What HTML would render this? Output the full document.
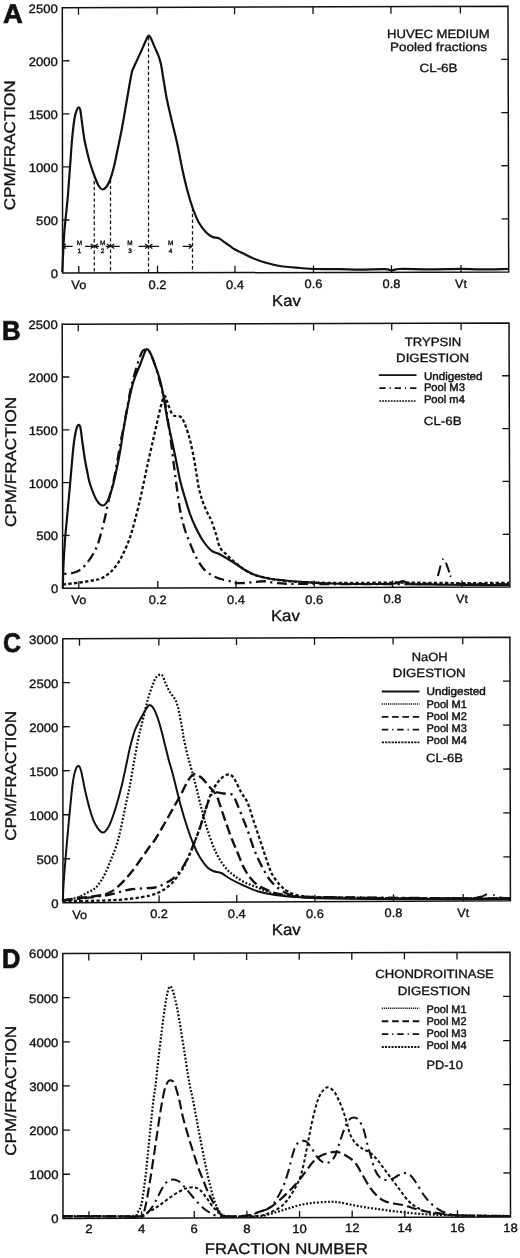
<!DOCTYPE html>
<html><head><meta charset="utf-8"><title>Figure</title>
<style>
html,body{margin:0;padding:0;background:#fff;}
body{width:520px;height:1258px;overflow:hidden;}
svg{display:block;will-change:transform;font-family:'Liberation Sans', sans-serif;fill:#111;}
text{text-rendering:geometricPrecision;stroke:#111;stroke-width:0.34px;}
</style></head><body>
<svg width="520" height="1258" viewBox="0 0 520 1258">
<rect width="520" height="1258" fill="#fff"/>
<path d="M62.30 7.70L508.00 6.30L508.70 272.00L62.60 273.10Z" fill="none" stroke="#111" stroke-width="1.5" stroke-linejoin="miter"/>
<path d="M78.49 7.65l0.01 7.00M78.80 273.06l-0.01 -7.00M157.11 7.40l0.01 7.00M157.50 272.87l-0.01 -7.00M234.55 7.16l0.01 7.00M235.00 272.67l-0.01 -7.00M312.98 6.91l0.01 7.00M313.50 272.48l-0.01 -7.00M390.91 6.67l0.02 7.00M391.50 272.29l-0.02 -7.00M460.34 6.45l0.02 7.00M461.00 272.12l-0.02 -7.00M62.54 220.02l7.00 -0.02M508.56 218.86l-7.00 0.02M62.48 166.94l7.00 -0.02M508.42 165.72l-7.00 0.02M62.42 113.86l7.00 -0.02M508.28 112.58l-7.00 0.02M62.36 60.78l7.00 -0.02M508.14 59.44l-7.00 0.02" stroke="#111" stroke-width="1.3" fill="none"/>
<text x="58.10" y="278.00" font-size="12.20" text-anchor="end" font-weight="normal" letter-spacing="0.00" textLength="7.30" lengthAdjust="spacingAndGlyphs" >0</text>
<text x="58.04" y="224.92" font-size="12.20" text-anchor="end" font-weight="normal" letter-spacing="0.00" textLength="21.90" lengthAdjust="spacingAndGlyphs" >500</text>
<text x="57.98" y="171.84" font-size="12.20" text-anchor="end" font-weight="normal" letter-spacing="0.00" textLength="29.20" lengthAdjust="spacingAndGlyphs" >1000</text>
<text x="57.92" y="118.76" font-size="12.20" text-anchor="end" font-weight="normal" letter-spacing="0.00" textLength="29.20" lengthAdjust="spacingAndGlyphs" >1500</text>
<text x="57.86" y="65.68" font-size="12.20" text-anchor="end" font-weight="normal" letter-spacing="0.00" textLength="29.20" lengthAdjust="spacingAndGlyphs" >2000</text>
<text x="57.80" y="12.60" font-size="12.20" text-anchor="end" font-weight="normal" letter-spacing="0.00" textLength="29.20" lengthAdjust="spacingAndGlyphs" >2500</text>
<text x="78.80" y="289.06" font-size="12.20" text-anchor="middle" font-weight="normal" letter-spacing="0.00" textLength="15.00" lengthAdjust="spacingAndGlyphs" >Vo</text>
<text x="157.50" y="288.87" font-size="12.20" text-anchor="middle" font-weight="normal" letter-spacing="0.00" textLength="17.90" lengthAdjust="spacingAndGlyphs" >0.2</text>
<text x="235.00" y="288.67" font-size="12.20" text-anchor="middle" font-weight="normal" letter-spacing="0.00" textLength="17.90" lengthAdjust="spacingAndGlyphs" >0.4</text>
<text x="313.50" y="288.48" font-size="12.20" text-anchor="middle" font-weight="normal" letter-spacing="0.00" textLength="17.90" lengthAdjust="spacingAndGlyphs" >0.6</text>
<text x="391.50" y="288.29" font-size="12.20" text-anchor="middle" font-weight="normal" letter-spacing="0.00" textLength="17.90" lengthAdjust="spacingAndGlyphs" >0.8</text>
<text x="461.00" y="288.12" font-size="12.20" text-anchor="middle" font-weight="normal" letter-spacing="0.00" textLength="11.80" lengthAdjust="spacingAndGlyphs" >Vt</text>
<text transform="translate(15.20 145.30) rotate(-90)" font-size="15.5" text-anchor="middle" textLength="130" lengthAdjust="spacingAndGlyphs">CPM/FRACTION</text>
<text x="286.40" y="306.30" font-size="15.80" text-anchor="middle" font-weight="normal" letter-spacing="0.00" textLength="28.60" lengthAdjust="spacingAndGlyphs" >Kav</text>
<text x="3.00" y="23.10" font-size="27.00" text-anchor="start" font-weight="bold" letter-spacing="0.00" textLength="19.80" lengthAdjust="spacingAndGlyphs" style="stroke-width:0.7px">A</text>
<text x="438.30" y="38.00" font-size="12.00" text-anchor="middle" font-weight="normal" letter-spacing="0.00" textLength="102.50" lengthAdjust="spacingAndGlyphs" >HUVEC MEDIUM</text>
<text x="438.50" y="51.30" font-size="12.00" text-anchor="middle" font-weight="normal" letter-spacing="0.00" textLength="97.00" lengthAdjust="spacingAndGlyphs" >Pooled fractions</text>
<text x="438.50" y="71.70" font-size="12.00" text-anchor="middle" font-weight="normal" letter-spacing="0.00" textLength="38.00" lengthAdjust="spacingAndGlyphs" >CL-6B</text>
<path d="M62.30 272.00C62.45 268.67 62.83 259.00 63.20 252.00C63.57 245.00 63.78 238.67 64.50 230.00C65.22 221.33 66.58 210.42 67.50 200.00C68.42 189.58 69.25 177.50 70.00 167.50C70.75 157.50 71.25 148.17 72.00 140.00C72.75 131.83 73.67 123.58 74.50 118.50C75.33 113.42 76.29 111.37 77.00 109.50C77.71 107.63 78.20 107.22 78.75 107.30C79.30 107.38 79.76 107.47 80.30 110.00C80.84 112.53 81.30 117.50 82.00 122.50C82.70 127.50 83.58 134.83 84.50 140.00C85.42 145.17 86.58 149.67 87.50 153.50C88.42 157.33 88.75 159.00 90.00 163.00C91.25 167.00 93.54 173.67 95.00 177.50C96.46 181.33 97.50 184.00 98.75 186.00C100.00 188.00 101.25 189.33 102.50 189.50C103.75 189.67 105.00 188.58 106.25 187.00C107.50 185.42 108.75 183.25 110.00 180.00C111.25 176.75 112.50 172.50 113.75 167.50C115.00 162.50 116.12 156.58 117.50 150.00C118.88 143.42 120.67 135.00 122.00 128.00C123.33 121.00 123.96 116.83 125.50 108.00C127.04 99.17 129.92 81.67 131.25 75.00C132.58 68.33 132.49 70.57 133.50 68.00C134.51 65.43 136.22 61.98 137.30 59.60C138.38 57.22 139.03 55.82 140.00 53.70C140.97 51.58 142.18 48.97 143.10 46.90C144.02 44.83 144.80 42.90 145.50 41.30C146.20 39.70 146.82 38.23 147.30 37.30C147.78 36.37 148.02 35.88 148.40 35.70C148.78 35.52 149.20 35.82 149.60 36.20C150.00 36.58 149.97 36.22 150.80 38.00C151.63 39.78 153.30 43.88 154.60 46.90C155.90 49.92 157.53 53.22 158.60 56.10C159.67 58.98 160.32 61.12 161.00 64.20C161.68 67.28 162.13 71.13 162.70 74.60C163.27 78.07 163.72 80.93 164.40 85.00C165.08 89.07 165.66 93.42 166.80 99.00C167.94 104.58 169.47 110.83 171.25 118.50C173.03 126.17 175.62 136.42 177.50 145.00C179.38 153.58 180.83 162.33 182.50 170.00C184.17 177.67 185.83 184.75 187.50 191.00C189.17 197.25 190.62 202.25 192.50 207.50C194.38 212.75 196.46 218.33 198.75 222.50C201.04 226.67 203.96 230.08 206.25 232.50C208.54 234.92 210.42 236.03 212.50 237.00C214.58 237.97 216.67 237.38 218.75 238.30C220.83 239.22 222.29 240.63 225.00 242.50C227.71 244.37 232.08 247.75 235.00 249.50C237.92 251.25 239.58 251.58 242.50 253.00C245.42 254.42 248.75 256.42 252.50 258.00C256.25 259.58 260.42 261.17 265.00 262.50C269.58 263.83 274.17 265.08 280.00 266.00C285.83 266.92 294.17 267.50 300.00 268.00C305.83 268.50 308.33 268.80 315.00 269.00C321.67 269.20 332.50 269.10 340.00 269.20C347.50 269.30 352.50 269.60 360.00 269.60C367.50 269.60 379.67 269.08 385.00 269.20C390.33 269.32 389.50 270.33 392.00 270.30C394.50 270.27 393.67 269.17 400.00 269.00C406.33 268.83 419.83 269.33 430.00 269.30C440.17 269.27 452.67 268.78 461.00 268.80C469.33 268.82 472.17 269.37 480.00 269.40C487.83 269.43 503.33 269.07 508.00 269.00" fill="none" stroke="#111" stroke-width="2.20" stroke-linejoin="round" stroke-linecap="butt"/>
<path d="M94.25 181.00V272.60M110.50 180.00V272.60M148.50 37.00V272.60M192.50 208.00V272.60" fill="none" stroke="#111" stroke-width="1.25" stroke-dasharray="3.4 2.4"/>
<path d="M62.60 246.30L72.60 246.30M62.60 246.30L66.00 244.00M62.60 246.30L66.00 248.60" fill="none" stroke="#111" stroke-width="1.25"/>
<path d="M94.00 246.30L85.00 246.30M94.00 246.30L90.60 244.00M94.00 246.30L90.60 248.60" fill="none" stroke="#111" stroke-width="1.25"/>
<path d="M94.50 246.30L99.00 246.30M94.50 246.30L97.90 244.00M94.50 246.30L97.90 248.60" fill="none" stroke="#111" stroke-width="1.25"/>
<path d="M110.20 246.30L105.70 246.30M110.20 246.30L106.80 244.00M110.20 246.30L106.80 248.60" fill="none" stroke="#111" stroke-width="1.25"/>
<path d="M110.80 246.30L119.80 246.30M110.80 246.30L114.20 244.00M110.80 246.30L114.20 248.60" fill="none" stroke="#111" stroke-width="1.25"/>
<path d="M148.50 246.30L138.50 246.30M148.50 246.30L145.10 244.00M148.50 246.30L145.10 248.60" fill="none" stroke="#111" stroke-width="1.25"/>
<path d="M149.00 246.30L159.00 246.30M149.00 246.30L152.40 244.00M149.00 246.30L152.40 248.60" fill="none" stroke="#111" stroke-width="1.25"/>
<path d="M192.20 246.30L182.70 246.30M192.20 246.30L188.80 244.00M192.20 246.30L188.80 248.60" fill="none" stroke="#111" stroke-width="1.25"/>
<text x="79.30" y="244.50" font-size="6.40" text-anchor="middle" font-weight="normal" letter-spacing="0.00"  >M</text>
<text x="79.30" y="253.10" font-size="6.40" text-anchor="middle" font-weight="normal" letter-spacing="0.00"  >1</text>
<text x="102.60" y="244.50" font-size="6.40" text-anchor="middle" font-weight="normal" letter-spacing="0.00"  >M</text>
<text x="102.60" y="253.10" font-size="6.40" text-anchor="middle" font-weight="normal" letter-spacing="0.00"  >2</text>
<text x="130.00" y="244.50" font-size="6.40" text-anchor="middle" font-weight="normal" letter-spacing="0.00"  >M</text>
<text x="130.00" y="253.10" font-size="6.40" text-anchor="middle" font-weight="normal" letter-spacing="0.00"  >3</text>
<text x="170.60" y="244.50" font-size="6.40" text-anchor="middle" font-weight="normal" letter-spacing="0.00"  >M</text>
<text x="170.60" y="253.10" font-size="6.40" text-anchor="middle" font-weight="normal" letter-spacing="0.00"  >4</text>
<path d="M62.20 324.20L509.00 322.90L509.90 587.10L62.70 588.30Z" fill="none" stroke="#111" stroke-width="1.5" stroke-linejoin="miter"/>
<path d="M78.29 324.15l0.01 7.00M78.80 588.26l-0.01 -7.00M157.21 323.92l0.02 7.00M157.80 588.04l-0.02 -7.00M235.34 323.70l0.02 7.00M236.00 587.83l-0.02 -7.00M313.57 323.47l0.02 7.00M314.30 587.62l-0.02 -7.00M391.71 323.24l0.02 7.00M392.50 587.42l-0.02 -7.00M461.14 323.04l0.02 7.00M462.00 587.23l-0.02 -7.00M62.60 535.48l7.00 -0.02M509.72 534.26l-7.00 0.02M62.50 482.66l7.00 -0.02M509.54 481.42l-7.00 0.02M62.40 429.84l7.00 -0.02M509.36 428.58l-7.00 0.02M62.30 377.02l7.00 -0.02M509.18 375.74l-7.00 0.02" stroke="#111" stroke-width="1.3" fill="none"/>
<text x="58.20" y="593.20" font-size="12.20" text-anchor="end" font-weight="normal" letter-spacing="0.00" textLength="7.30" lengthAdjust="spacingAndGlyphs" >0</text>
<text x="58.10" y="540.38" font-size="12.20" text-anchor="end" font-weight="normal" letter-spacing="0.00" textLength="21.90" lengthAdjust="spacingAndGlyphs" >500</text>
<text x="58.00" y="487.56" font-size="12.20" text-anchor="end" font-weight="normal" letter-spacing="0.00" textLength="29.20" lengthAdjust="spacingAndGlyphs" >1000</text>
<text x="57.90" y="434.74" font-size="12.20" text-anchor="end" font-weight="normal" letter-spacing="0.00" textLength="29.20" lengthAdjust="spacingAndGlyphs" >1500</text>
<text x="57.80" y="381.92" font-size="12.20" text-anchor="end" font-weight="normal" letter-spacing="0.00" textLength="29.20" lengthAdjust="spacingAndGlyphs" >2000</text>
<text x="57.70" y="329.10" font-size="12.20" text-anchor="end" font-weight="normal" letter-spacing="0.00" textLength="29.20" lengthAdjust="spacingAndGlyphs" >2500</text>
<text x="78.80" y="604.26" font-size="12.20" text-anchor="middle" font-weight="normal" letter-spacing="0.00" textLength="15.00" lengthAdjust="spacingAndGlyphs" >Vo</text>
<text x="157.80" y="604.04" font-size="12.20" text-anchor="middle" font-weight="normal" letter-spacing="0.00" textLength="17.90" lengthAdjust="spacingAndGlyphs" >0.2</text>
<text x="236.00" y="603.83" font-size="12.20" text-anchor="middle" font-weight="normal" letter-spacing="0.00" textLength="17.90" lengthAdjust="spacingAndGlyphs" >0.4</text>
<text x="314.30" y="603.62" font-size="12.20" text-anchor="middle" font-weight="normal" letter-spacing="0.00" textLength="17.90" lengthAdjust="spacingAndGlyphs" >0.6</text>
<text x="392.50" y="603.42" font-size="12.20" text-anchor="middle" font-weight="normal" letter-spacing="0.00" textLength="17.90" lengthAdjust="spacingAndGlyphs" >0.8</text>
<text x="462.00" y="603.23" font-size="12.20" text-anchor="middle" font-weight="normal" letter-spacing="0.00" textLength="11.80" lengthAdjust="spacingAndGlyphs" >Vt</text>
<text transform="translate(15.90 462.00) rotate(-90)" font-size="15.5" text-anchor="middle" textLength="130" lengthAdjust="spacingAndGlyphs">CPM/FRACTION</text>
<text x="285.40" y="621.00" font-size="15.80" text-anchor="middle" font-weight="normal" letter-spacing="0.00" textLength="29.00" lengthAdjust="spacingAndGlyphs" >Kav</text>
<text x="1.90" y="340.20" font-size="27.40" text-anchor="start" font-weight="bold" letter-spacing="0.00" textLength="18.60" lengthAdjust="spacingAndGlyphs" style="stroke-width:0.7px">B</text>
<text x="433.00" y="346.20" font-size="12.00" text-anchor="middle" font-weight="normal" letter-spacing="0.00" textLength="56.50" lengthAdjust="spacingAndGlyphs" >TRYPSIN</text>
<text x="432.60" y="362.30" font-size="12.00" text-anchor="middle" font-weight="normal" letter-spacing="0.00" textLength="73.00" lengthAdjust="spacingAndGlyphs" >DIGESTION</text>
<path d="M378.80 375.10H416.50" fill="none" stroke="#111" stroke-width="1.80"/>
<path d="M379.30 388.10H416.60" fill="none" stroke="#111" stroke-width="1.70" stroke-dasharray="6.3 4 1.2 3.9"/>
<path d="M379.30 401.00H416.60" fill="none" stroke="#111" stroke-width="1.70" stroke-dasharray="1.8 1.07"/>
<text x="423.90" y="379.50" font-size="11.00" text-anchor="start" font-weight="normal" letter-spacing="0.00" textLength="58.60" lengthAdjust="spacingAndGlyphs" style="stroke-width:0.45px">Undigested</text>
<text x="423.90" y="391.40" font-size="11.00" text-anchor="start" font-weight="normal" letter-spacing="0.00" textLength="41.00" lengthAdjust="spacingAndGlyphs" style="stroke-width:0.45px">Pool M3</text>
<text x="423.90" y="403.20" font-size="11.00" text-anchor="start" font-weight="normal" letter-spacing="0.00" textLength="41.00" lengthAdjust="spacingAndGlyphs" style="stroke-width:0.45px">Pool m4</text>
<text x="442.70" y="424.80" font-size="12.00" text-anchor="middle" font-weight="normal" letter-spacing="0.00" textLength="37.70" lengthAdjust="spacingAndGlyphs" >CL-6B</text>
<path d="M62.80 588.00C62.92 584.17 63.13 573.00 63.50 565.00C63.87 557.00 64.33 548.75 65.00 540.00C65.67 531.25 66.67 521.67 67.50 512.50C68.33 503.33 69.25 493.42 70.00 485.00C70.75 476.58 71.33 469.17 72.00 462.00C72.67 454.83 73.25 447.58 74.00 442.00C74.75 436.42 75.71 431.37 76.50 428.50C77.29 425.63 78.08 424.88 78.75 424.80C79.42 424.72 79.88 424.97 80.50 428.00C81.12 431.03 81.75 437.67 82.50 443.00C83.25 448.33 84.17 455.00 85.00 460.00C85.83 465.00 86.67 469.00 87.50 473.00C88.33 477.00 88.54 479.58 90.00 484.00C91.46 488.42 94.17 495.92 96.25 499.50C98.33 503.08 100.62 505.25 102.50 505.50C104.38 505.75 105.83 504.08 107.50 501.00C109.17 497.92 111.04 492.00 112.50 487.00C113.96 482.00 115.00 476.83 116.25 471.00C117.50 465.17 118.75 459.17 120.00 452.00C121.25 444.83 122.42 435.83 123.75 428.00C125.08 420.17 126.54 412.17 128.00 405.00C129.46 397.83 131.17 390.08 132.50 385.00C133.83 379.92 134.75 377.83 136.00 374.50C137.25 371.17 138.75 368.17 140.00 365.00C141.25 361.83 142.46 358.08 143.50 355.50C144.54 352.92 145.37 350.33 146.25 349.50C147.13 348.67 147.97 349.58 148.80 350.50C149.63 351.42 150.22 352.58 151.25 355.00C152.28 357.42 153.54 360.83 155.00 365.00C156.46 369.17 158.54 374.58 160.00 380.00C161.46 385.42 162.50 390.83 163.75 397.50C165.00 404.17 166.12 412.75 167.50 420.00C168.88 427.25 170.58 434.33 172.00 441.00C173.42 447.67 174.67 453.50 176.00 460.00C177.33 466.50 178.50 473.67 180.00 480.00C181.50 486.33 183.33 492.33 185.00 498.00C186.67 503.67 188.33 509.33 190.00 514.00C191.67 518.67 192.92 521.67 195.00 526.00C197.08 530.33 199.79 535.92 202.50 540.00C205.21 544.08 208.54 548.21 211.25 550.50C213.96 552.79 216.04 552.38 218.75 553.75C221.46 555.12 224.38 556.88 227.50 558.75C230.62 560.62 234.58 563.12 237.50 565.00C240.42 566.88 242.08 568.33 245.00 570.00C247.92 571.67 250.83 573.54 255.00 575.00C259.17 576.46 265.00 577.83 270.00 578.75C275.00 579.67 280.00 580.00 285.00 580.50C290.00 581.00 292.50 581.25 300.00 581.75C307.50 582.25 318.33 583.12 330.00 583.50C341.67 583.88 359.17 584.00 370.00 584.00C380.83 584.00 389.50 584.00 395.00 583.50C400.50 583.00 400.50 580.95 403.00 581.00C405.50 581.05 403.83 583.20 410.00 583.80C416.17 584.40 430.00 584.40 440.00 584.60C450.00 584.80 458.50 584.90 470.00 585.00C481.50 585.10 502.50 585.17 509.00 585.20" fill="none" stroke="#111" stroke-width="2.20" stroke-linejoin="round" stroke-linecap="butt"/>
<path d="M62.80 574.00C64.42 573.83 69.63 573.67 72.50 573.00C75.37 572.33 77.71 571.50 80.00 570.00C82.29 568.50 84.17 566.50 86.25 564.00C88.33 561.50 90.62 558.17 92.50 555.00C94.38 551.83 96.04 548.75 97.50 545.00C98.96 541.25 100.00 537.08 101.25 532.50C102.50 527.92 103.75 522.92 105.00 517.50C106.25 512.08 107.29 506.25 108.75 500.00C110.21 493.75 112.29 486.67 113.75 480.00C115.21 473.33 116.29 466.67 117.50 460.00C118.71 453.33 119.75 446.67 121.00 440.00C122.25 433.33 123.50 427.92 125.00 420.00C126.50 412.08 128.58 399.50 130.00 392.50C131.42 385.50 132.50 381.92 133.50 378.00C134.50 374.08 135.13 371.92 136.00 369.00C136.87 366.08 137.67 363.42 138.70 360.50C139.73 357.58 141.10 353.37 142.20 351.50C143.30 349.63 144.25 349.47 145.30 349.30C146.35 349.13 147.38 349.22 148.50 350.50C149.62 351.78 150.75 354.08 152.00 357.00C153.25 359.92 154.67 363.75 156.00 368.00C157.33 372.25 158.50 376.75 160.00 382.50C161.50 388.25 163.67 396.08 165.00 402.50C166.33 408.92 167.08 415.08 168.00 421.00C168.92 426.92 169.67 431.83 170.50 438.00C171.33 444.17 172.20 451.67 173.00 458.00C173.80 464.33 174.38 469.00 175.30 476.00C176.22 483.00 177.47 493.17 178.50 500.00C179.53 506.83 180.42 512.00 181.50 517.00C182.58 522.00 183.79 526.17 185.00 530.00C186.21 533.83 187.08 535.83 188.75 540.00C190.42 544.17 192.71 550.42 195.00 555.00C197.29 559.58 199.79 564.17 202.50 567.50C205.21 570.83 208.33 573.12 211.25 575.00C214.17 576.88 216.88 577.71 220.00 578.75C223.12 579.79 227.42 580.54 230.00 581.25C232.58 581.96 233.00 582.71 235.50 583.00C238.00 583.29 241.75 583.17 245.00 583.00C248.25 582.83 251.67 582.29 255.00 582.00C258.33 581.71 261.67 581.08 265.00 581.25C268.33 581.42 271.25 582.58 275.00 583.00C278.75 583.42 280.00 583.58 287.50 583.75C295.00 583.92 306.25 583.92 320.00 584.00C333.75 584.08 353.33 584.20 370.00 584.20C386.67 584.20 409.67 584.07 420.00 584.00C430.33 583.93 430.00 583.83 432.00 583.80" fill="none" stroke="#111" stroke-width="2.30" stroke-linejoin="round" stroke-linecap="butt" stroke-dasharray="10 4.5 2.2 4.5" stroke-dashoffset="13.0"/>
<path d="M456.00 584.00C460.00 584.03 471.17 584.15 480.00 584.20C488.83 584.25 504.17 584.28 509.00 584.30" fill="none" stroke="#111" stroke-width="2.30" stroke-linejoin="round" stroke-linecap="butt" stroke-dasharray="10 4.5 2.2 4.5" stroke-dashoffset="0.0"/>
<path d="M437.9 576L440.6 565.6M442.3 559.6L443.2 558.6M445.9 562.6L449.4 572.4M450.2 575.6L451 576.8" fill="none" stroke="#111" stroke-width="2"/>
<path d="M62.80 584.50C65.67 584.17 75.05 583.17 80.00 582.50C84.95 581.83 88.96 581.17 92.50 580.50C96.04 579.83 98.33 579.83 101.25 578.50C104.17 577.17 107.29 574.96 110.00 572.50C112.71 570.04 115.21 567.08 117.50 563.75C119.79 560.42 121.67 556.88 123.75 552.50C125.83 548.12 128.12 542.92 130.00 537.50C131.88 532.08 133.33 526.25 135.00 520.00C136.67 513.75 138.54 506.25 140.00 500.00C141.46 493.75 142.50 488.33 143.75 482.50C145.00 476.67 146.29 470.58 147.50 465.00C148.71 459.42 149.92 453.83 151.00 449.00C152.08 444.17 152.71 441.67 154.00 436.00C155.29 430.33 157.42 420.67 158.75 415.00C160.08 409.33 161.08 405.17 162.00 402.00C162.92 398.83 163.58 396.67 164.25 396.00C164.92 395.33 165.38 396.67 166.00 398.00C166.62 399.33 167.00 401.33 168.00 404.00C169.00 406.67 170.75 412.00 172.00 414.00C173.25 416.00 174.17 415.58 175.50 416.00C176.83 416.42 178.75 415.83 180.00 416.50C181.25 417.17 182.00 418.25 183.00 420.00C184.00 421.75 184.83 423.67 186.00 427.00C187.17 430.33 188.71 434.92 190.00 440.00C191.29 445.08 192.71 452.08 193.75 457.50C194.79 462.92 195.42 467.50 196.25 472.50C197.08 477.50 197.71 482.75 198.75 487.50C199.79 492.25 201.04 496.75 202.50 501.00C203.96 505.25 206.00 509.67 207.50 513.00C209.00 516.33 210.04 517.33 211.50 521.00C212.96 524.67 214.83 530.58 216.25 535.00C217.67 539.42 218.12 544.08 220.00 547.50C221.88 550.92 225.00 553.00 227.50 555.50C230.00 558.00 232.08 560.08 235.00 562.50C237.92 564.92 241.67 567.92 245.00 570.00C248.33 572.08 250.83 573.54 255.00 575.00C259.17 576.46 265.42 577.83 270.00 578.75C274.58 579.67 277.50 579.96 282.50 580.50C287.50 581.04 290.42 581.58 300.00 582.00C309.58 582.42 323.33 582.92 340.00 583.00C356.67 583.08 383.33 582.50 400.00 582.50C416.67 582.50 421.83 582.92 440.00 583.00C458.17 583.08 497.50 583.00 509.00 583.00" fill="none" stroke="#111" stroke-width="2.30" stroke-linejoin="round" stroke-linecap="butt" stroke-dasharray="3.3 2.3" stroke-dashoffset="0.0"/>
<path d="M62.80 638.70L509.90 637.20L510.40 900.80L63.00 902.80Z" fill="none" stroke="#111" stroke-width="1.5" stroke-linejoin="miter"/>
<path d="M79.49 638.64l0.01 7.00M79.70 902.73l-0.01 -7.00M158.84 638.38l0.01 7.00M159.10 902.37l-0.01 -7.00M236.48 638.12l0.01 7.00M236.80 902.02l-0.01 -7.00M314.53 637.86l0.01 7.00M314.90 901.67l-0.01 -7.00M393.08 637.59l0.01 7.00M393.50 901.32l-0.01 -7.00M462.73 637.36l0.01 7.00M463.20 901.01l-0.01 -7.00M62.97 858.78l7.00 -0.03M510.32 856.87l-7.00 0.03M62.93 814.77l7.00 -0.03M510.23 812.93l-7.00 0.03M62.90 770.75l7.00 -0.03M510.15 769.00l-7.00 0.03M62.87 726.73l7.00 -0.03M510.07 725.07l-7.00 0.03M62.83 682.72l7.00 -0.02M509.98 681.13l-7.00 0.02" stroke="#111" stroke-width="1.3" fill="none"/>
<text x="58.50" y="907.70" font-size="12.20" text-anchor="end" font-weight="normal" letter-spacing="0.00" textLength="7.30" lengthAdjust="spacingAndGlyphs" >0</text>
<text x="58.47" y="863.68" font-size="12.20" text-anchor="end" font-weight="normal" letter-spacing="0.00" textLength="21.90" lengthAdjust="spacingAndGlyphs" >500</text>
<text x="58.43" y="819.67" font-size="12.20" text-anchor="end" font-weight="normal" letter-spacing="0.00" textLength="29.20" lengthAdjust="spacingAndGlyphs" >1000</text>
<text x="58.40" y="775.65" font-size="12.20" text-anchor="end" font-weight="normal" letter-spacing="0.00" textLength="29.20" lengthAdjust="spacingAndGlyphs" >1500</text>
<text x="58.37" y="731.63" font-size="12.20" text-anchor="end" font-weight="normal" letter-spacing="0.00" textLength="29.20" lengthAdjust="spacingAndGlyphs" >2000</text>
<text x="58.33" y="687.62" font-size="12.20" text-anchor="end" font-weight="normal" letter-spacing="0.00" textLength="29.20" lengthAdjust="spacingAndGlyphs" >2500</text>
<text x="58.30" y="643.60" font-size="12.20" text-anchor="end" font-weight="normal" letter-spacing="0.00" textLength="29.20" lengthAdjust="spacingAndGlyphs" >3000</text>
<text x="79.70" y="918.73" font-size="12.20" text-anchor="middle" font-weight="normal" letter-spacing="0.00" textLength="15.00" lengthAdjust="spacingAndGlyphs" >Vo</text>
<text x="159.10" y="918.37" font-size="12.20" text-anchor="middle" font-weight="normal" letter-spacing="0.00" textLength="17.90" lengthAdjust="spacingAndGlyphs" >0.2</text>
<text x="236.80" y="918.02" font-size="12.20" text-anchor="middle" font-weight="normal" letter-spacing="0.00" textLength="17.90" lengthAdjust="spacingAndGlyphs" >0.4</text>
<text x="314.90" y="917.67" font-size="12.20" text-anchor="middle" font-weight="normal" letter-spacing="0.00" textLength="17.90" lengthAdjust="spacingAndGlyphs" >0.6</text>
<text x="393.50" y="917.32" font-size="12.20" text-anchor="middle" font-weight="normal" letter-spacing="0.00" textLength="17.90" lengthAdjust="spacingAndGlyphs" >0.8</text>
<text x="463.20" y="917.01" font-size="12.20" text-anchor="middle" font-weight="normal" letter-spacing="0.00" textLength="11.80" lengthAdjust="spacingAndGlyphs" >Vt</text>
<text transform="translate(16.30 775.80) rotate(-90)" font-size="15.5" text-anchor="middle" textLength="130" lengthAdjust="spacingAndGlyphs">CPM/FRACTION</text>
<text x="286.20" y="935.00" font-size="15.80" text-anchor="middle" font-weight="normal" letter-spacing="0.00" textLength="29.00" lengthAdjust="spacingAndGlyphs" >Kav</text>
<text x="3.00" y="652.40" font-size="27.00" text-anchor="start" font-weight="bold" letter-spacing="0.00" textLength="18.00" lengthAdjust="spacingAndGlyphs" style="stroke-width:0.7px">C</text>
<text x="429.60" y="660.60" font-size="12.00" text-anchor="middle" font-weight="normal" letter-spacing="0.00" textLength="35.80" lengthAdjust="spacingAndGlyphs" >NaOH</text>
<text x="429.20" y="676.80" font-size="12.00" text-anchor="middle" font-weight="normal" letter-spacing="0.00" textLength="72.70" lengthAdjust="spacingAndGlyphs" >DIGESTION</text>
<path d="M381.80 691.50H419.40" fill="none" stroke="#111" stroke-width="1.80"/>
<text x="426.50" y="694.90" font-size="11.00" text-anchor="start" font-weight="normal" letter-spacing="0.00" textLength="59.30" lengthAdjust="spacingAndGlyphs" style="stroke-width:0.45px">Undigested</text>
<path d="M381.80 704.00H419.40" fill="none" stroke="#111" stroke-width="1.50" stroke-dasharray="1.2 0.87"/>
<text x="426.50" y="707.50" font-size="11.00" text-anchor="start" font-weight="normal" letter-spacing="0.00" textLength="40.40" lengthAdjust="spacingAndGlyphs" style="stroke-width:0.45px">Pool M1</text>
<path d="M381.80 716.90H419.40" fill="none" stroke="#111" stroke-width="1.90" stroke-dasharray="6.6 3.7"/>
<text x="426.50" y="719.90" font-size="11.00" text-anchor="start" font-weight="normal" letter-spacing="0.00" textLength="40.40" lengthAdjust="spacingAndGlyphs" style="stroke-width:0.45px">Pool M2</text>
<path d="M381.80 729.60H419.40" fill="none" stroke="#111" stroke-width="1.70" stroke-dasharray="6.5 3.9 1.2 3.8"/>
<text x="426.50" y="731.70" font-size="11.00" text-anchor="start" font-weight="normal" letter-spacing="0.00" textLength="40.40" lengthAdjust="spacingAndGlyphs" style="stroke-width:0.45px">Pool M3</text>
<path d="M381.80 742.30H419.40" fill="none" stroke="#111" stroke-width="1.80" stroke-dasharray="2.2 1.05"/>
<text x="426.50" y="743.80" font-size="11.00" text-anchor="start" font-weight="normal" letter-spacing="0.00" textLength="40.40" lengthAdjust="spacingAndGlyphs" style="stroke-width:0.45px">Pool M4</text>
<text x="444.50" y="762.10" font-size="12.00" text-anchor="middle" font-weight="normal" letter-spacing="0.00" textLength="36.90" lengthAdjust="spacingAndGlyphs" >CL-6B</text>
<path d="M62.80 901.00C62.92 898.33 63.13 891.00 63.50 885.00C63.87 879.00 64.12 875.42 65.00 865.00C65.88 854.58 67.50 835.83 68.75 822.50C70.00 809.17 71.38 793.75 72.50 785.00C73.62 776.25 74.46 773.17 75.50 770.00C76.54 766.83 77.79 765.75 78.75 766.00C79.71 766.25 80.21 767.50 81.25 771.50C82.29 775.50 83.54 783.58 85.00 790.00C86.46 796.42 88.33 804.38 90.00 810.00C91.67 815.62 92.92 820.00 95.00 823.75C97.08 827.50 100.21 832.04 102.50 832.50C104.79 832.96 106.67 830.25 108.75 826.50C110.83 822.75 112.92 816.50 115.00 810.00C117.08 803.50 119.38 795.00 121.25 787.50C123.12 780.00 124.79 771.67 126.25 765.00C127.71 758.33 128.54 753.33 130.00 747.50C131.46 741.67 133.12 735.00 135.00 730.00C136.88 725.00 139.38 721.04 141.25 717.50C143.12 713.96 144.88 710.83 146.25 708.75C147.62 706.67 148.25 705.00 149.50 705.00C150.75 705.00 152.42 706.67 153.75 708.75C155.08 710.83 156.25 713.96 157.50 717.50C158.75 721.04 160.00 725.42 161.25 730.00C162.50 734.58 163.75 740.00 165.00 745.00C166.25 750.00 167.50 755.33 168.75 760.00C170.00 764.67 171.25 768.33 172.50 773.00C173.75 777.67 174.79 782.25 176.25 788.00C177.71 793.75 179.38 800.83 181.25 807.50C183.12 814.17 185.42 821.75 187.50 828.00C189.58 834.25 191.67 840.08 193.75 845.00C195.83 849.92 197.71 853.75 200.00 857.50C202.29 861.25 205.21 865.21 207.50 867.50C209.79 869.79 211.46 870.33 213.75 871.25C216.04 872.17 218.54 871.75 221.25 873.00C223.96 874.25 226.46 876.75 230.00 878.75C233.54 880.75 237.92 882.92 242.50 885.00C247.08 887.08 252.08 889.58 257.50 891.25C262.92 892.92 267.92 893.99 275.00 895.00C282.08 896.01 290.83 896.70 300.00 897.30C309.17 897.90 313.33 898.32 330.00 898.60C346.67 898.88 378.33 898.93 400.00 899.00C421.67 899.07 441.67 899.02 460.00 899.00C478.33 898.98 501.67 898.92 510.00 898.90" fill="none" stroke="#111" stroke-width="2.00" stroke-linejoin="round" stroke-linecap="butt"/>
<path d="M62.80 900.60C65.25 900.08 73.38 898.85 77.50 897.50C81.62 896.15 84.58 894.03 87.50 892.50C90.42 890.97 92.85 890.08 95.00 888.30C97.15 886.52 98.60 884.47 100.40 881.80C102.20 879.13 104.00 876.10 105.80 872.30C107.60 868.50 109.42 863.47 111.20 859.00C112.98 854.53 114.95 850.33 116.50 845.50C118.05 840.67 118.88 837.17 120.50 830.00C122.12 822.83 124.67 810.00 126.25 802.50C127.83 795.00 128.71 791.75 130.00 785.00C131.29 778.25 132.58 769.88 134.00 762.00C135.42 754.12 137.12 744.37 138.50 737.70C139.88 731.03 141.15 726.78 142.30 722.00C143.45 717.22 144.37 713.17 145.40 709.00C146.43 704.83 147.35 700.83 148.50 697.00C149.65 693.17 151.15 689.08 152.30 686.00C153.45 682.92 154.37 680.30 155.40 678.50C156.43 676.70 157.35 675.72 158.50 675.20C159.65 674.68 161.15 674.10 162.30 675.40C163.45 676.70 164.12 680.18 165.40 683.00C166.68 685.82 168.47 689.72 170.00 692.30C171.53 694.88 173.32 696.22 174.60 698.50C175.88 700.78 176.80 702.92 177.70 706.00C178.60 709.08 179.23 713.17 180.00 717.00C180.77 720.83 181.67 725.42 182.30 729.00C182.93 732.58 182.93 734.17 183.80 738.50C184.67 742.83 186.05 749.25 187.50 755.00C188.95 760.75 190.83 766.75 192.50 773.00C194.17 779.25 195.83 785.92 197.50 792.50C199.17 799.08 200.83 806.25 202.50 812.50C204.17 818.75 205.62 824.17 207.50 830.00C209.38 835.83 211.67 842.50 213.75 847.50C215.83 852.50 217.71 856.25 220.00 860.00C222.29 863.75 225.00 867.29 227.50 870.00C230.00 872.71 232.08 874.17 235.00 876.25C237.92 878.33 241.25 880.62 245.00 882.50C248.75 884.38 253.33 885.83 257.50 887.50C261.67 889.17 265.83 891.25 270.00 892.50C274.17 893.75 277.50 894.28 282.50 895.00C287.50 895.72 292.08 896.37 300.00 896.80C307.92 897.23 310.00 897.37 330.00 897.60C350.00 897.83 390.00 898.07 420.00 898.20C450.00 898.33 495.00 898.37 510.00 898.40" fill="none" stroke="#111" stroke-width="2.20" stroke-linejoin="round" stroke-linecap="butt" stroke-dasharray="1.9 1.75" stroke-dashoffset="0.0"/>
<path d="M62.80 900.50C65.67 900.08 73.38 898.92 80.00 898.00C86.62 897.08 97.65 895.87 102.50 895.00C107.35 894.13 106.77 893.97 109.10 892.80C111.43 891.63 113.92 890.13 116.50 888.00C119.08 885.87 121.90 882.90 124.60 880.00C127.30 877.10 130.23 873.73 132.70 870.60C135.17 867.47 137.17 864.35 139.40 861.20C141.63 858.05 144.18 854.40 146.10 851.70C148.02 849.00 149.28 847.20 150.90 845.00C152.52 842.80 153.38 842.33 155.80 838.50C158.22 834.67 162.20 827.58 165.40 822.00C168.60 816.42 172.23 809.92 175.00 805.00C177.77 800.08 179.92 796.42 182.00 792.50C184.08 788.58 185.58 784.53 187.50 781.50C189.42 778.47 191.21 774.97 193.50 774.30C195.79 773.63 198.50 775.30 201.25 777.50C204.00 779.70 207.50 784.58 210.00 787.50C212.50 790.42 214.58 792.08 216.25 795.00C217.92 797.92 218.54 800.83 220.00 805.00C221.46 809.17 223.12 814.58 225.00 820.00C226.88 825.42 229.17 832.08 231.25 837.50C233.33 842.92 235.42 847.50 237.50 852.50C239.58 857.50 241.67 863.33 243.75 867.50C245.83 871.67 247.71 874.58 250.00 877.50C252.29 880.42 254.58 882.92 257.50 885.00C260.42 887.08 264.17 888.54 267.50 890.00C270.83 891.46 272.08 892.60 277.50 893.75C282.92 894.90 291.25 896.23 300.00 896.90C308.75 897.57 310.00 897.55 330.00 897.80C350.00 898.05 390.00 898.28 420.00 898.40C450.00 898.52 495.00 898.48 510.00 898.50" fill="none" stroke="#111" stroke-width="2.40" stroke-linejoin="round" stroke-linecap="butt" stroke-dasharray="10 4.3" stroke-dashoffset="0.0"/>
<path d="M62.80 900.50C69.83 899.67 93.80 897.33 105.00 895.50C116.20 893.67 121.67 890.83 130.00 889.50C138.33 888.17 149.33 888.45 155.00 887.50C160.67 886.55 161.08 885.22 164.00 883.80C166.92 882.38 169.75 881.25 172.50 879.00C175.25 876.75 178.25 873.22 180.50 870.30C182.75 867.38 184.00 865.38 186.00 861.50C188.00 857.62 190.17 852.67 192.50 847.00C194.83 841.33 197.71 834.08 200.00 827.50C202.29 820.92 204.38 812.92 206.25 807.50C208.12 802.08 209.58 797.50 211.25 795.00C212.92 792.50 214.17 792.75 216.25 792.50C218.33 792.25 221.04 793.08 223.75 793.50C226.46 793.92 230.21 793.08 232.50 795.00C234.79 796.92 235.83 801.25 237.50 805.00C239.17 808.75 240.83 813.33 242.50 817.50C244.17 821.67 245.83 825.42 247.50 830.00C249.17 834.58 250.83 840.42 252.50 845.00C254.17 849.58 255.62 853.33 257.50 857.50C259.38 861.67 261.67 866.25 263.75 870.00C265.83 873.75 267.71 877.08 270.00 880.00C272.29 882.92 274.58 885.21 277.50 887.50C280.42 889.79 283.75 892.28 287.50 893.75C291.25 895.22 292.92 895.72 300.00 896.30C307.08 896.88 310.00 896.92 330.00 897.20C350.00 897.48 396.67 897.82 420.00 898.00C443.33 898.18 460.50 898.37 470.00 898.30C479.50 898.23 475.17 897.88 477.00 897.60C478.83 897.32 480.33 896.77 481.00 896.60" fill="none" stroke="#111" stroke-width="2.30" stroke-linejoin="round" stroke-linecap="butt" stroke-dasharray="10 4.5 2.2 4.5" stroke-dashoffset="0.0"/>
<path d="M62.80 901.00C69.83 900.92 93.80 900.88 105.00 900.50C116.20 900.12 122.50 899.58 130.00 898.75C137.50 897.92 144.58 896.88 150.00 895.50C155.42 894.12 158.75 892.67 162.50 890.50C166.25 888.33 169.58 885.50 172.50 882.50C175.42 879.50 177.92 875.50 180.00 872.50C182.08 869.50 182.92 868.67 185.00 864.50C187.08 860.33 190.00 853.67 192.50 847.50C195.00 841.33 197.71 834.17 200.00 827.50C202.29 820.83 204.38 813.25 206.25 807.50C208.12 801.75 209.38 797.17 211.25 793.00C213.12 788.83 215.42 785.25 217.50 782.50C219.58 779.75 221.67 777.83 223.75 776.50C225.83 775.17 228.12 773.92 230.00 774.50C231.88 775.08 233.12 777.00 235.00 780.00C236.88 783.00 239.17 788.75 241.25 792.50C243.33 796.25 245.62 798.33 247.50 802.50C249.38 806.67 250.83 812.50 252.50 817.50C254.17 822.50 255.83 827.50 257.50 832.50C259.17 837.50 260.83 842.50 262.50 847.50C264.17 852.50 265.83 857.92 267.50 862.50C269.17 867.08 270.42 871.25 272.50 875.00C274.58 878.75 277.50 882.29 280.00 885.00C282.50 887.71 284.17 889.45 287.50 891.25C290.83 893.05 292.92 894.77 300.00 895.80C307.08 896.82 310.00 896.98 330.00 897.40C350.00 897.82 390.00 898.10 420.00 898.30C450.00 898.50 495.00 898.55 510.00 898.60" fill="none" stroke="#111" stroke-width="2.30" stroke-linejoin="round" stroke-linecap="butt" stroke-dasharray="3.3 2.3" stroke-dashoffset="0.0"/>
<path d="M480.2 897.4L487 894.2M493.2 895L494.6 895.2M499 897.6L510 898.4" fill="none" stroke="#111" stroke-width="2"/>
<path d="M62.80 953.50L510.00 952.30L510.50 1217.10L63.00 1218.40Z" fill="none" stroke="#111" stroke-width="1.5" stroke-linejoin="miter"/>
<path d="M88.78 953.43l0.01 7.00M89.00 1218.32l-0.01 -7.00M141.39 953.29l0.01 7.00M141.64 1218.17l-0.01 -7.00M193.99 953.15l0.01 7.00M194.28 1218.02l-0.01 -7.00M246.60 953.01l0.01 7.00M246.92 1217.87l-0.01 -7.00M299.20 952.87l0.01 7.00M299.56 1217.71l-0.01 -7.00M351.81 952.72l0.01 7.00M352.20 1217.56l-0.01 -7.00M404.41 952.58l0.01 7.00M404.84 1217.41l-0.01 -7.00M457.02 952.44l0.01 7.00M457.48 1217.25l-0.01 -7.00M62.97 1174.25l7.00 -0.02M510.42 1172.97l-7.00 0.02M62.93 1130.10l7.00 -0.02M510.33 1128.83l-7.00 0.02M62.90 1085.95l7.00 -0.02M510.25 1084.70l-7.00 0.02M62.87 1041.80l7.00 -0.02M510.17 1040.57l-7.00 0.02M62.83 997.65l7.00 -0.02M510.08 996.43l-7.00 0.02" stroke="#111" stroke-width="1.3" fill="none"/>
<text x="58.50" y="1223.30" font-size="12.20" text-anchor="end" font-weight="normal" letter-spacing="0.00" textLength="7.30" lengthAdjust="spacingAndGlyphs" >0</text>
<text x="58.47" y="1179.15" font-size="12.20" text-anchor="end" font-weight="normal" letter-spacing="0.00" textLength="29.20" lengthAdjust="spacingAndGlyphs" >1000</text>
<text x="58.43" y="1135.00" font-size="12.20" text-anchor="end" font-weight="normal" letter-spacing="0.00" textLength="29.20" lengthAdjust="spacingAndGlyphs" >2000</text>
<text x="58.40" y="1090.85" font-size="12.20" text-anchor="end" font-weight="normal" letter-spacing="0.00" textLength="29.20" lengthAdjust="spacingAndGlyphs" >3000</text>
<text x="58.37" y="1046.70" font-size="12.20" text-anchor="end" font-weight="normal" letter-spacing="0.00" textLength="29.20" lengthAdjust="spacingAndGlyphs" >4000</text>
<text x="58.33" y="1002.55" font-size="12.20" text-anchor="end" font-weight="normal" letter-spacing="0.00" textLength="29.20" lengthAdjust="spacingAndGlyphs" >5000</text>
<text x="58.30" y="958.40" font-size="12.20" text-anchor="end" font-weight="normal" letter-spacing="0.00" textLength="29.20" lengthAdjust="spacingAndGlyphs" >6000</text>
<text x="89.00" y="1233.12" font-size="12.20" text-anchor="middle" font-weight="normal" letter-spacing="0.00" textLength="7.30" lengthAdjust="spacingAndGlyphs" >2</text>
<text x="141.64" y="1232.97" font-size="12.20" text-anchor="middle" font-weight="normal" letter-spacing="0.00" textLength="7.30" lengthAdjust="spacingAndGlyphs" >4</text>
<text x="194.28" y="1232.82" font-size="12.20" text-anchor="middle" font-weight="normal" letter-spacing="0.00" textLength="7.30" lengthAdjust="spacingAndGlyphs" >6</text>
<text x="246.92" y="1232.67" font-size="12.20" text-anchor="middle" font-weight="normal" letter-spacing="0.00" textLength="7.30" lengthAdjust="spacingAndGlyphs" >8</text>
<text x="299.56" y="1232.51" font-size="12.20" text-anchor="middle" font-weight="normal" letter-spacing="0.00" textLength="14.60" lengthAdjust="spacingAndGlyphs" >10</text>
<text x="352.20" y="1232.36" font-size="12.20" text-anchor="middle" font-weight="normal" letter-spacing="0.00" textLength="14.60" lengthAdjust="spacingAndGlyphs" >12</text>
<text x="404.84" y="1232.21" font-size="12.20" text-anchor="middle" font-weight="normal" letter-spacing="0.00" textLength="14.60" lengthAdjust="spacingAndGlyphs" >14</text>
<text x="457.48" y="1232.05" font-size="12.20" text-anchor="middle" font-weight="normal" letter-spacing="0.00" textLength="14.60" lengthAdjust="spacingAndGlyphs" >16</text>
<text x="510.60" y="1231.90" font-size="12.20" text-anchor="middle" font-weight="normal" letter-spacing="0.00" textLength="14.60" lengthAdjust="spacingAndGlyphs" >18</text>
<text transform="translate(16.30 1090.80) rotate(-90)" font-size="15.5" text-anchor="middle" textLength="130" lengthAdjust="spacingAndGlyphs">CPM/FRACTION</text>
<text x="286.30" y="1254.30" font-size="15.30" text-anchor="middle" font-weight="normal" letter-spacing="0.00" textLength="163.00" lengthAdjust="spacingAndGlyphs" >FRACTION NUMBER</text>
<text x="1.90" y="968.20" font-size="27.20" text-anchor="start" font-weight="bold" letter-spacing="0.00" textLength="18.40" lengthAdjust="spacingAndGlyphs" style="stroke-width:0.7px">D</text>
<text x="434.60" y="978.30" font-size="12.00" text-anchor="middle" font-weight="normal" letter-spacing="0.00" textLength="118.50" lengthAdjust="spacingAndGlyphs" >CHONDROITINASE</text>
<text x="434.00" y="995.00" font-size="12.00" text-anchor="middle" font-weight="normal" letter-spacing="0.00" textLength="72.50" lengthAdjust="spacingAndGlyphs" >DIGESTION</text>
<path d="M381.80 1008.20H419.40" fill="none" stroke="#111" stroke-width="1.50" stroke-dasharray="1.2 0.87"/>
<text x="426.50" y="1012.60" font-size="11.00" text-anchor="start" font-weight="normal" letter-spacing="0.00" textLength="40.00" lengthAdjust="spacingAndGlyphs" style="stroke-width:0.45px">Pool M1</text>
<path d="M381.80 1021.20H419.40" fill="none" stroke="#111" stroke-width="2.00" stroke-dasharray="6.6 3.7"/>
<text x="426.50" y="1024.60" font-size="11.00" text-anchor="start" font-weight="normal" letter-spacing="0.00" textLength="40.00" lengthAdjust="spacingAndGlyphs" style="stroke-width:0.45px">Pool M2</text>
<path d="M381.80 1034.10H419.40" fill="none" stroke="#111" stroke-width="1.80" stroke-dasharray="6.5 3.9 1.2 3.8"/>
<text x="426.50" y="1036.70" font-size="11.00" text-anchor="start" font-weight="normal" letter-spacing="0.00" textLength="40.00" lengthAdjust="spacingAndGlyphs" style="stroke-width:0.45px">Pool M3</text>
<path d="M381.80 1047.10H419.40" fill="none" stroke="#111" stroke-width="2.00" stroke-dasharray="2.0 1.25"/>
<text x="426.50" y="1048.90" font-size="11.00" text-anchor="start" font-weight="normal" letter-spacing="0.00" textLength="40.00" lengthAdjust="spacingAndGlyphs" style="stroke-width:0.45px">Pool M4</text>
<text x="444.70" y="1069.00" font-size="12.00" text-anchor="middle" font-weight="normal" letter-spacing="0.00" textLength="36.40" lengthAdjust="spacingAndGlyphs" >PD-10</text>
<path d="M62.80 1216.00C69.00 1216.00 88.38 1216.00 100.00 1216.00C111.62 1216.00 126.25 1216.58 132.50 1216.00C138.75 1215.42 136.04 1214.33 137.50 1212.50C138.96 1210.67 140.21 1208.75 141.25 1205.00C142.29 1201.25 142.92 1195.83 143.75 1190.00C144.58 1184.17 145.42 1177.50 146.25 1170.00C147.08 1162.50 147.92 1153.33 148.75 1145.00C149.58 1136.67 150.42 1127.92 151.25 1120.00C152.08 1112.08 153.04 1103.17 153.75 1097.50C154.46 1091.83 154.79 1091.83 155.50 1086.00C156.21 1080.17 157.04 1071.00 158.00 1062.50C158.96 1054.00 160.17 1043.75 161.25 1035.00C162.33 1026.25 163.61 1016.33 164.50 1010.00C165.39 1003.67 165.95 1000.45 166.60 997.00C167.25 993.55 167.83 991.08 168.40 989.30C168.97 987.52 169.43 986.47 170.00 986.30C170.57 986.13 171.15 986.93 171.80 988.30C172.45 989.67 173.03 991.30 173.90 994.50C174.77 997.70 175.90 1002.00 177.00 1007.50C178.10 1013.00 179.25 1020.00 180.50 1027.50C181.75 1035.00 183.25 1044.58 184.50 1052.50C185.75 1060.42 187.00 1068.92 188.00 1075.00C189.00 1081.08 189.75 1085.25 190.50 1089.00C191.25 1092.75 191.54 1092.75 192.50 1097.50C193.46 1102.25 195.00 1110.83 196.25 1117.50C197.50 1124.17 198.54 1130.00 200.00 1137.50C201.46 1145.00 203.33 1154.58 205.00 1162.50C206.67 1170.42 208.33 1178.33 210.00 1185.00C211.67 1191.67 213.33 1197.92 215.00 1202.50C216.67 1207.08 218.33 1210.25 220.00 1212.50C221.67 1214.75 222.50 1215.33 225.00 1216.00C227.50 1216.67 230.83 1216.42 235.00 1216.50C239.17 1216.58 245.42 1216.58 250.00 1216.50C254.58 1216.42 258.33 1216.67 262.50 1216.00C266.67 1215.33 270.83 1213.71 275.00 1212.50C279.17 1211.29 283.33 1210.00 287.50 1208.75C291.67 1207.50 295.83 1205.96 300.00 1205.00C304.17 1204.04 308.33 1203.50 312.50 1203.00C316.67 1202.50 321.67 1202.21 325.00 1202.00C328.33 1201.79 330.00 1201.67 332.50 1201.75C335.00 1201.83 336.25 1201.88 340.00 1202.50C343.75 1203.12 350.00 1204.58 355.00 1205.50C360.00 1206.42 365.00 1207.25 370.00 1208.00C375.00 1208.75 379.17 1209.25 385.00 1210.00C390.83 1210.75 397.50 1211.75 405.00 1212.50C412.50 1213.25 420.83 1214.00 430.00 1214.50C439.17 1215.00 446.67 1215.25 460.00 1215.50C473.33 1215.75 501.67 1215.92 510.00 1216.00" fill="none" stroke="#111" stroke-width="2.20" stroke-linejoin="round" stroke-linecap="butt" stroke-dasharray="1.9 1.75" stroke-dashoffset="0.0"/>
<path d="M62.80 1216.20C72.33 1216.20 106.88 1216.18 120.00 1216.20C133.12 1216.22 137.58 1216.67 141.50 1216.30C145.42 1215.93 142.60 1216.83 143.50 1214.00C144.40 1211.17 145.75 1205.22 146.90 1199.30C148.05 1193.38 149.23 1185.80 150.40 1178.50C151.57 1171.20 152.75 1163.18 153.90 1155.50C155.05 1147.82 156.15 1140.10 157.30 1132.40C158.45 1124.70 159.63 1116.20 160.80 1109.30C161.97 1102.40 163.15 1095.55 164.30 1091.00C165.45 1086.45 166.55 1083.77 167.70 1082.00C168.85 1080.23 170.05 1080.07 171.20 1080.40C172.35 1080.73 173.25 1080.73 174.60 1084.00C175.95 1087.27 177.95 1094.63 179.30 1100.00C180.65 1105.37 181.17 1110.03 182.70 1116.20C184.23 1122.37 186.57 1130.45 188.50 1137.00C190.43 1143.55 192.57 1150.12 194.30 1155.50C196.03 1160.88 197.37 1165.07 198.90 1169.30C200.43 1173.53 201.97 1177.05 203.50 1180.90C205.03 1184.75 206.57 1188.95 208.10 1192.40C209.63 1195.85 210.77 1198.13 212.70 1201.60C214.63 1205.07 217.82 1210.80 219.70 1213.20C221.58 1215.60 221.45 1215.48 224.00 1216.00C226.55 1216.52 230.67 1216.38 235.00 1216.30C239.33 1216.22 246.25 1216.13 250.00 1215.50C253.75 1214.87 254.17 1213.83 257.50 1212.50C260.83 1211.17 265.83 1210.00 270.00 1207.50C274.17 1205.00 278.33 1201.25 282.50 1197.50C286.67 1193.75 291.25 1189.17 295.00 1185.00C298.75 1180.83 302.08 1176.25 305.00 1172.50C307.92 1168.75 310.00 1165.21 312.50 1162.50C315.00 1159.79 317.08 1157.92 320.00 1156.25C322.92 1154.58 327.08 1153.21 330.00 1152.50C332.92 1151.79 335.00 1151.58 337.50 1152.00C340.00 1152.42 342.08 1153.25 345.00 1155.00C347.92 1156.75 352.08 1159.17 355.00 1162.50C357.92 1165.83 360.00 1170.83 362.50 1175.00C365.00 1179.17 367.50 1183.96 370.00 1187.50C372.50 1191.04 375.00 1193.96 377.50 1196.25C380.00 1198.54 382.08 1200.00 385.00 1201.25C387.92 1202.50 391.67 1203.04 395.00 1203.75C398.33 1204.46 401.67 1204.67 405.00 1205.50C408.33 1206.33 411.67 1207.79 415.00 1208.75C418.33 1209.71 421.25 1210.54 425.00 1211.25C428.75 1211.96 431.67 1212.29 437.50 1213.00C443.33 1213.71 447.92 1215.00 460.00 1215.50C472.08 1216.00 501.67 1215.92 510.00 1216.00" fill="none" stroke="#111" stroke-width="2.15" stroke-linejoin="round" stroke-linecap="butt" stroke-dasharray="10 4.3" stroke-dashoffset="0.0"/>
<path d="M62.80 1216.40C72.33 1216.40 106.92 1216.38 120.00 1216.40C133.07 1216.42 136.25 1217.57 141.25 1216.50C146.25 1215.43 147.50 1212.75 150.00 1210.00C152.50 1207.25 154.38 1203.33 156.25 1200.00C158.12 1196.67 159.58 1192.92 161.25 1190.00C162.92 1187.08 164.38 1184.25 166.25 1182.50C168.12 1180.75 170.42 1179.71 172.50 1179.50C174.58 1179.29 176.67 1179.92 178.75 1181.25C180.83 1182.58 182.92 1185.21 185.00 1187.50C187.08 1189.79 188.96 1192.29 191.25 1195.00C193.54 1197.71 196.04 1201.04 198.75 1203.75C201.46 1206.46 204.38 1209.21 207.50 1211.25C210.62 1213.29 212.92 1215.12 217.50 1216.00C222.08 1216.88 229.58 1216.67 235.00 1216.50C240.42 1216.33 246.25 1215.67 250.00 1215.00C253.75 1214.33 254.17 1213.75 257.50 1212.50C260.83 1211.25 266.67 1210.00 270.00 1207.50C273.33 1205.00 275.21 1201.25 277.50 1197.50C279.79 1193.75 281.88 1189.58 283.75 1185.00C285.62 1180.42 287.29 1175.00 288.75 1170.00C290.21 1165.00 291.25 1159.17 292.50 1155.00C293.75 1150.83 294.79 1147.29 296.25 1145.00C297.71 1142.71 299.58 1141.83 301.25 1141.25C302.92 1140.67 304.58 1140.46 306.25 1141.50C307.92 1142.54 309.38 1144.83 311.25 1147.50C313.12 1150.17 315.42 1155.00 317.50 1157.50C319.58 1160.00 321.67 1161.75 323.75 1162.50C325.83 1163.25 328.12 1163.08 330.00 1162.00C331.88 1160.92 333.67 1158.42 335.00 1156.00C336.33 1153.58 336.96 1150.58 338.00 1147.50C339.04 1144.42 340.08 1140.83 341.25 1137.50C342.42 1134.17 343.75 1130.42 345.00 1127.50C346.25 1124.58 347.29 1121.67 348.75 1120.00C350.21 1118.33 352.08 1117.50 353.75 1117.50C355.42 1117.50 357.08 1117.92 358.75 1120.00C360.42 1122.08 362.29 1125.83 363.75 1130.00C365.21 1134.17 366.25 1140.42 367.50 1145.00C368.75 1149.58 370.00 1153.33 371.25 1157.50C372.50 1161.67 373.54 1166.67 375.00 1170.00C376.46 1173.33 378.12 1175.83 380.00 1177.50C381.88 1179.17 384.17 1179.79 386.25 1180.00C388.33 1180.21 390.42 1179.58 392.50 1178.75C394.58 1177.92 396.67 1175.96 398.75 1175.00C400.83 1174.04 402.92 1172.79 405.00 1173.00C407.08 1173.21 409.17 1174.25 411.25 1176.25C413.33 1178.25 415.42 1181.88 417.50 1185.00C419.58 1188.12 421.67 1192.08 423.75 1195.00C425.83 1197.92 427.71 1200.21 430.00 1202.50C432.29 1204.79 435.00 1207.08 437.50 1208.75C440.00 1210.42 441.25 1211.38 445.00 1212.50C448.75 1213.62 449.17 1214.92 460.00 1215.50C470.83 1216.08 501.67 1215.92 510.00 1216.00" fill="none" stroke="#111" stroke-width="2.05" stroke-linejoin="round" stroke-linecap="butt" stroke-dasharray="10 4.5 2.2 4.5" stroke-dashoffset="0.0"/>
<path d="M62.80 1216.60C72.33 1216.60 107.55 1216.62 120.00 1216.60C132.45 1216.58 132.50 1217.39 137.50 1216.50C142.50 1215.61 146.25 1213.17 150.00 1211.25C153.75 1209.33 156.67 1207.29 160.00 1205.00C163.33 1202.71 166.67 1199.79 170.00 1197.50C173.33 1195.21 177.08 1192.83 180.00 1191.25C182.92 1189.67 185.08 1188.62 187.50 1188.00C189.92 1187.38 192.42 1187.17 194.50 1187.50C196.58 1187.83 198.04 1188.33 200.00 1190.00C201.96 1191.67 204.17 1194.79 206.25 1197.50C208.33 1200.21 210.21 1203.54 212.50 1206.25C214.79 1208.96 217.50 1212.04 220.00 1213.75C222.50 1215.46 223.33 1216.04 227.50 1216.50C231.67 1216.96 239.25 1216.67 245.00 1216.50C250.75 1216.33 257.83 1216.17 262.00 1215.50C266.17 1214.83 267.00 1213.83 270.00 1212.50C273.00 1211.17 277.17 1209.50 280.00 1207.50C282.83 1205.50 284.92 1203.00 287.00 1200.50C289.08 1198.00 290.75 1195.33 292.50 1192.50C294.25 1189.67 296.04 1186.58 297.50 1183.50C298.96 1180.42 300.17 1177.50 301.25 1174.00C302.33 1170.50 303.12 1166.50 304.00 1162.50C304.88 1158.50 305.67 1154.25 306.50 1150.00C307.33 1145.75 308.17 1141.25 309.00 1137.00C309.83 1132.75 310.58 1128.75 311.50 1124.50C312.42 1120.25 313.50 1115.42 314.50 1111.50C315.50 1107.58 316.33 1104.17 317.50 1101.00C318.67 1097.83 319.83 1094.78 321.50 1092.50C323.17 1090.22 325.46 1087.51 327.50 1087.30C329.54 1087.09 331.88 1089.13 333.75 1091.25C335.62 1093.37 337.08 1096.46 338.75 1100.00C340.42 1103.54 342.29 1108.33 343.75 1112.50C345.21 1116.67 346.46 1121.42 347.50 1125.00C348.54 1128.58 348.75 1131.08 350.00 1134.00C351.25 1136.92 352.92 1140.04 355.00 1142.50C357.08 1144.96 360.00 1147.08 362.50 1148.75C365.00 1150.42 367.50 1150.62 370.00 1152.50C372.50 1154.38 375.00 1157.08 377.50 1160.00C380.00 1162.92 382.50 1166.67 385.00 1170.00C387.50 1173.33 390.00 1176.67 392.50 1180.00C395.00 1183.33 397.50 1186.67 400.00 1190.00C402.50 1193.33 405.00 1197.29 407.50 1200.00C410.00 1202.71 412.08 1204.38 415.00 1206.25C417.92 1208.12 421.25 1210.00 425.00 1211.25C428.75 1212.50 431.67 1213.04 437.50 1213.75C443.33 1214.46 447.92 1215.12 460.00 1215.50C472.08 1215.88 501.67 1215.92 510.00 1216.00" fill="none" stroke="#111" stroke-width="2.00" stroke-linejoin="round" stroke-linecap="butt" stroke-dasharray="3.3 2.3" stroke-dashoffset="0.0"/>
</svg>
</body></html>
